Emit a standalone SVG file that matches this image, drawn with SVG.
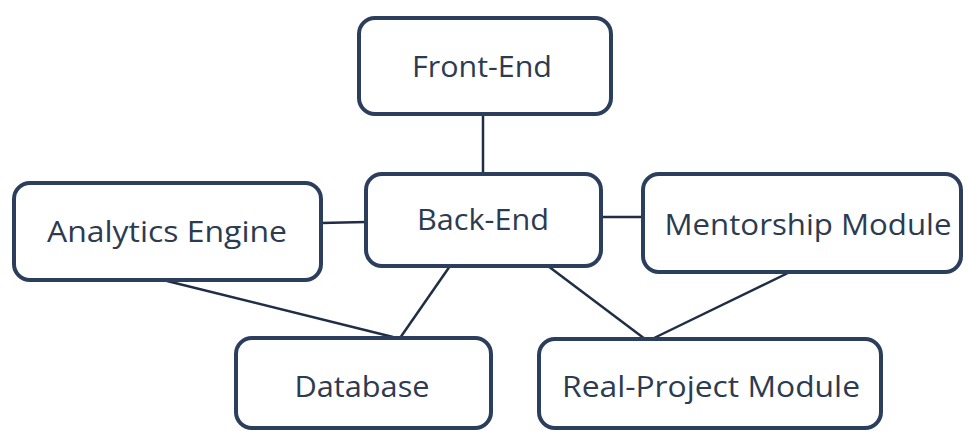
<svg xmlns="http://www.w3.org/2000/svg" width="968" height="431" viewBox="0 0 968 431">
  <style>
    .box { fill: #ffffff; stroke: #2b3e5c; stroke-width: 4; }
    .label { font-family: "Open Sans", "Liberation Sans", sans-serif; font-size: 30px; fill: #2c3b50; text-anchor: middle; }
    .link { stroke: #1f2e44; stroke-width: 2.5; fill: none; }
  </style>
  <rect width="968" height="431" fill="#ffffff"/>

  <!-- connectors -->
  <g id="connectors">
    <line class="link" x1="483" y1="115" x2="483" y2="174"/>
    <line class="link" x1="321" y1="223" x2="366" y2="222"/>
    <line class="link" x1="601" y1="217" x2="643" y2="217"/>
    <line class="link" x1="167" y1="281" x2="393" y2="337"/>
    <line class="link" x1="450" y1="266" x2="400" y2="338"/>
    <line class="link" x1="548" y1="266" x2="645" y2="339"/>
    <line class="link" x1="790" y1="272" x2="652" y2="339"/>
  </g>

  <g id="front-end">
    <rect class="box" x="359" y="18" width="252" height="96" rx="16"/>
    <text class="label" x="482" y="77" textLength="140" lengthAdjust="spacingAndGlyphs">Front-End</text>
  </g>

  <g id="back-end">
    <rect class="box" x="366" y="174" width="235" height="92" rx="16"/>
    <text class="label" x="483" y="230" textLength="132" lengthAdjust="spacingAndGlyphs">Back-End</text>
  </g>

  <g id="analytics-engine">
    <rect class="box" x="14" y="183" width="307" height="97" rx="16"/>
    <text class="label" x="167" y="242" textLength="240" lengthAdjust="spacingAndGlyphs">Analytics Engine</text>
  </g>

  <g id="mentorship-module">
    <rect class="box" x="643" y="174" width="318" height="98" rx="16"/>
    <text class="label" x="808" y="235" textLength="287" lengthAdjust="spacingAndGlyphs">Mentorship Module</text>
  </g>

  <g id="database">
    <rect class="box" x="236" y="338" width="255" height="90" rx="16"/>
    <text class="label" x="362" y="397" textLength="135" lengthAdjust="spacingAndGlyphs">Database</text>
  </g>

  <g id="real-project-module">
    <rect class="box" x="539" y="339" width="342" height="89" rx="16"/>
    <text class="label" x="711" y="397" textLength="298" lengthAdjust="spacingAndGlyphs">Real-Project Module</text>
  </g>
</svg>
